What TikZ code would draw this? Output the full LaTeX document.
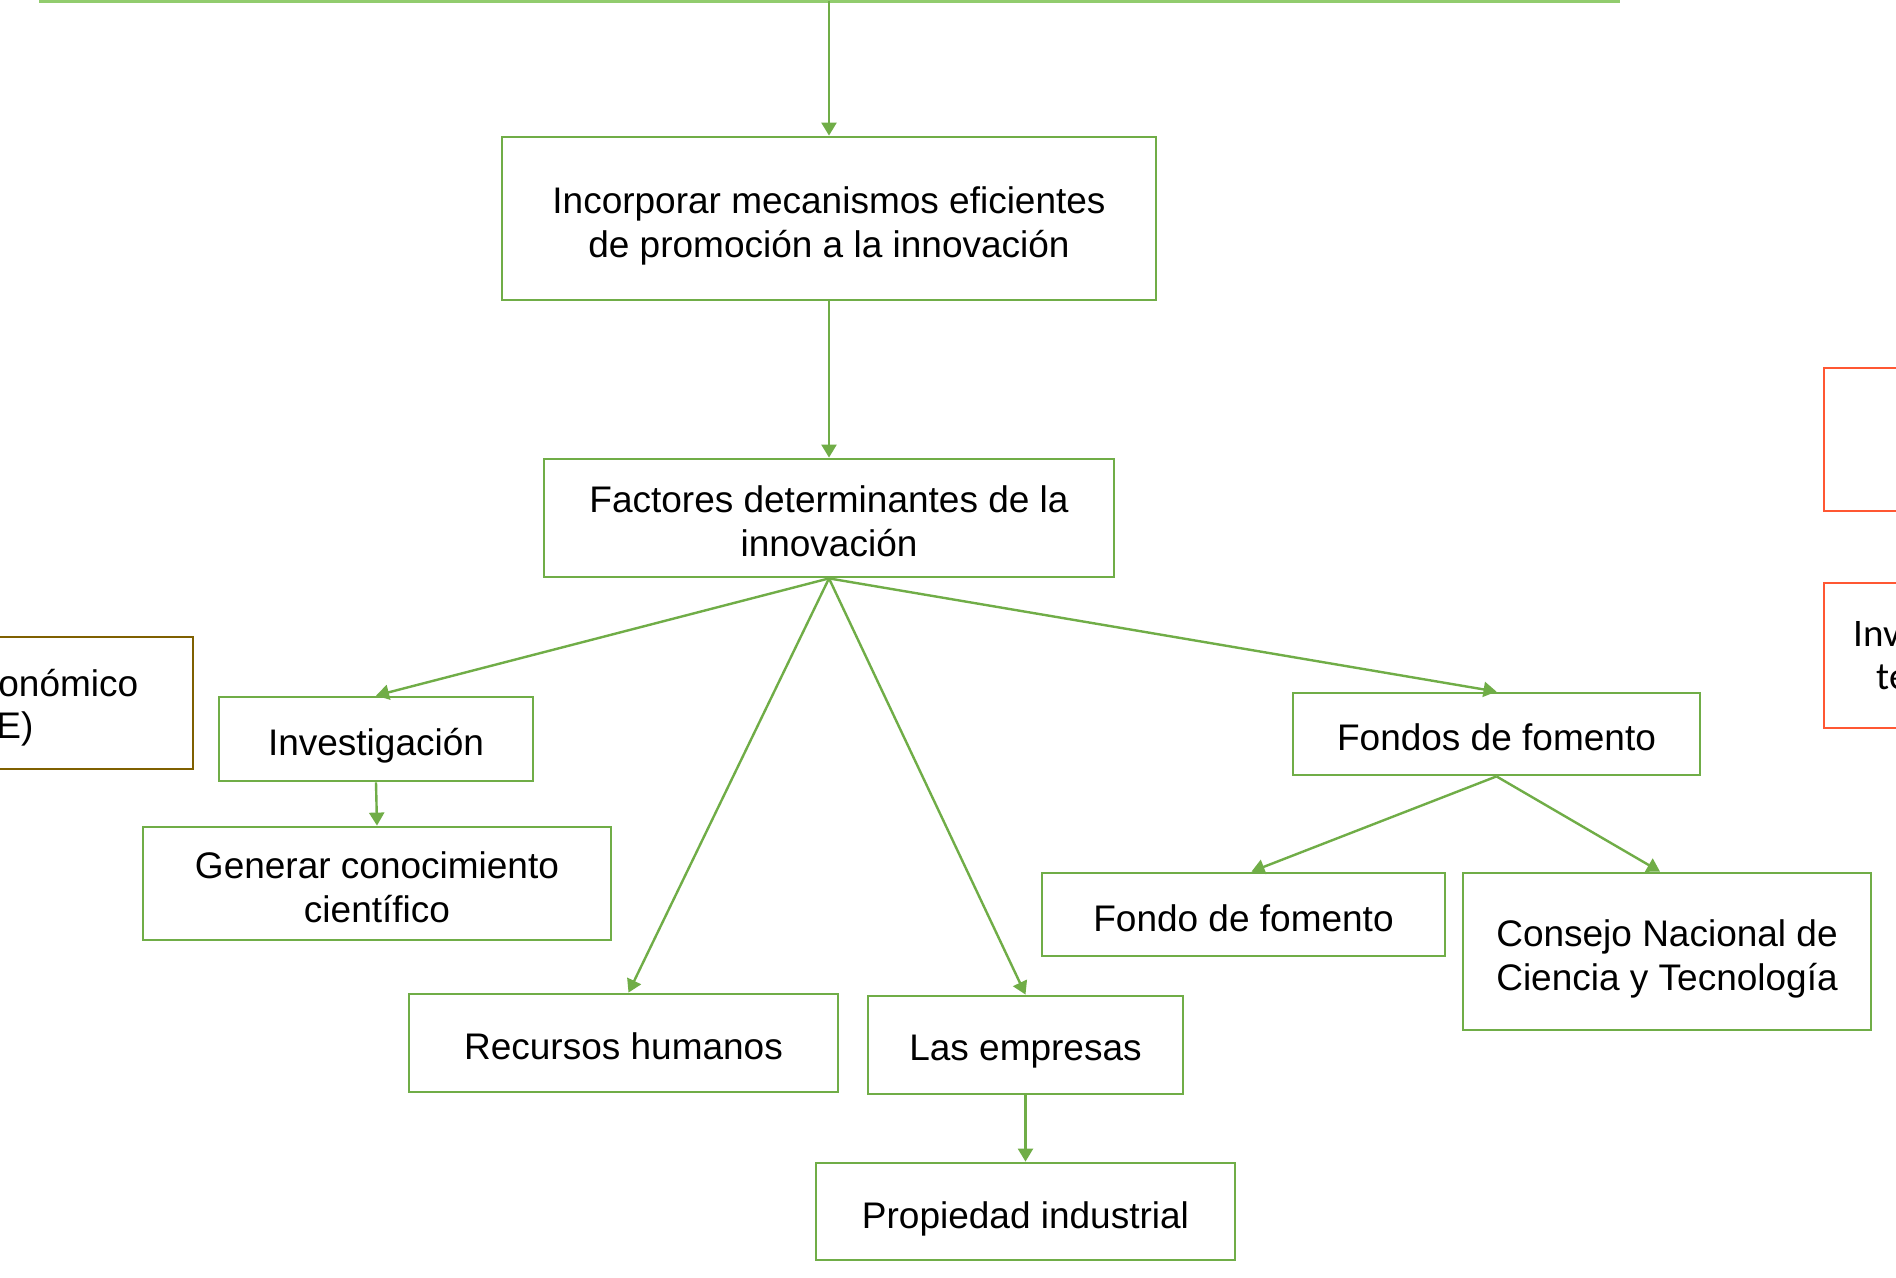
\documentclass[tikz,border=0pt]{standalone}
\usepackage{fontspec}
\setmainfont{Liberation Sans}
\newfontfamily\carl{Carlito}
\usetikzlibrary{arrows.meta}
\definecolor{gline}{RGB}{112,173,71}
\definecolor{gtop}{RGB}{146,204,110}
\definecolor{brownb}{RGB}{127,96,0}
\definecolor{redb}{RGB}{255,87,51}
\tikzset{
  box/.style={draw=gline, line width=1.4pt, inner sep=0pt},
  lbl/.style={align=center, inner sep=0pt, text depth=0pt, yshift=-1.6pt,
    font=\fontsize{18.5}{22}\selectfont},
  conn/.style={draw=gline, line width=1.2pt, -{Triangle[length=6.5pt,width=7.5pt]}},
  txt/.style={inner sep=0pt, font=\fontsize{18.5}{22}\selectfont}
}
\begin{document}
\begin{tikzpicture}[x=0.5pt,y=-0.5pt]
\useasboundingbox (0,0) rectangle (1896,1278);
\clip (0,0) rectangle (1896,1278);
\fill[white] (0,0) rectangle (1896,1278);
% top line
\draw[gtop, line width=1.5pt] (39,1.5) -- (1620,1.5);
\coordinate (tl) at (829,1.5);
% boxes
\node[box, minimum width=327pt, minimum height=81.5pt, label={[lbl]center:{Incorporar mecanismos eficientes\\de promoción a la innovación}}] (b1) at (829,218.5) {};
\node[box, minimum width=285pt, minimum height=59pt, label={[lbl]center:{Factores determinantes de la\\innovación}}] (b2) at (829,518) {};
\node[box, minimum width=157pt, minimum height=42pt, label={[lbl]center:{Investigación}}] (inv) at (376,739) {};
\node[box, minimum width=234pt, minimum height=56.5pt, label={[lbl]center:{Generar conocimiento\\científico}}] (gen) at (377,883.5) {};
\node[box, minimum width=214.5pt, minimum height=49pt, label={[lbl]center:{Recursos humanos}}] (rh) at (623.5,1043) {};
\node[box, minimum width=157.5pt, minimum height=49pt, label={[lbl]center:{Las empresas}}] (emp) at (1025.5,1045) {};
\node[box, minimum width=209.5pt, minimum height=48.5pt, label={[lbl]center:{Propiedad industrial}}] (pi) at (1025.5,1211.5) {};
\node[box, minimum width=203.5pt, minimum height=41pt, label={[lbl]center:{Fondos de fomento}}] (ff) at (1496.5,734) {};
\node[box, minimum width=201.5pt, minimum height=41.5pt, label={[lbl]center:{Fondo de fomento}}] (f1) at (1243.5,914.5) {};
\node[box, minimum width=204pt, minimum height=78.5pt, label={[lbl]center:{Consejo Nacional de\\Ciencia y Tecnología}}] (cn) at (1667,951.5) {};
% partial boxes at the edges
\node[draw=brownb, line width=1.4pt, minimum width=130pt, minimum height=66pt, inner sep=0pt] (ce) at (63,703) {};
\node[txt, anchor=west] (ce1) at (-2,683) {onómico};
\node[txt, anchor=west] (ce2) at (-4,729) {E)};
\node[draw=redb, line width=1.4pt, minimum width=70pt, minimum height=71.5pt, inner sep=0pt] (r1) at (1894,439.5) {};
\node[draw=redb, line width=1.4pt, minimum width=70pt, minimum height=72.5pt, inner sep=0pt] (r2) at (1894,655.5) {};
\node[txt, anchor=west, font=\carl\fontsize{19.5}{22}\selectfont] (r2a) at (1853,634) {Inv};
\node[txt, anchor=west, font=\carl\fontsize{19.5}{22}\selectfont] (r2b) at (1876,677) {te};
% connectors
\draw[conn] (tl) -- (b1.north);
\draw[conn] (b1.south) -- (b2.north);
\draw[conn] (b2.south) -- (inv.north);
\draw[conn] (b2.south) -- ([xshift=2.5pt]rh.north);
\draw[conn] (b2.south) -- (emp.north);
\draw[conn] (b2.south) -- (ff.north);
\draw[conn] (inv.south) -- (gen.north);
\draw[conn] (emp.south) -- (pi.north);
\draw[conn] (ff.south) -- ([xshift=4pt]f1.north);
\draw[conn] (ff.south) -- ([xshift=-3.5pt]cn.north);
\end{tikzpicture}
\end{document}
